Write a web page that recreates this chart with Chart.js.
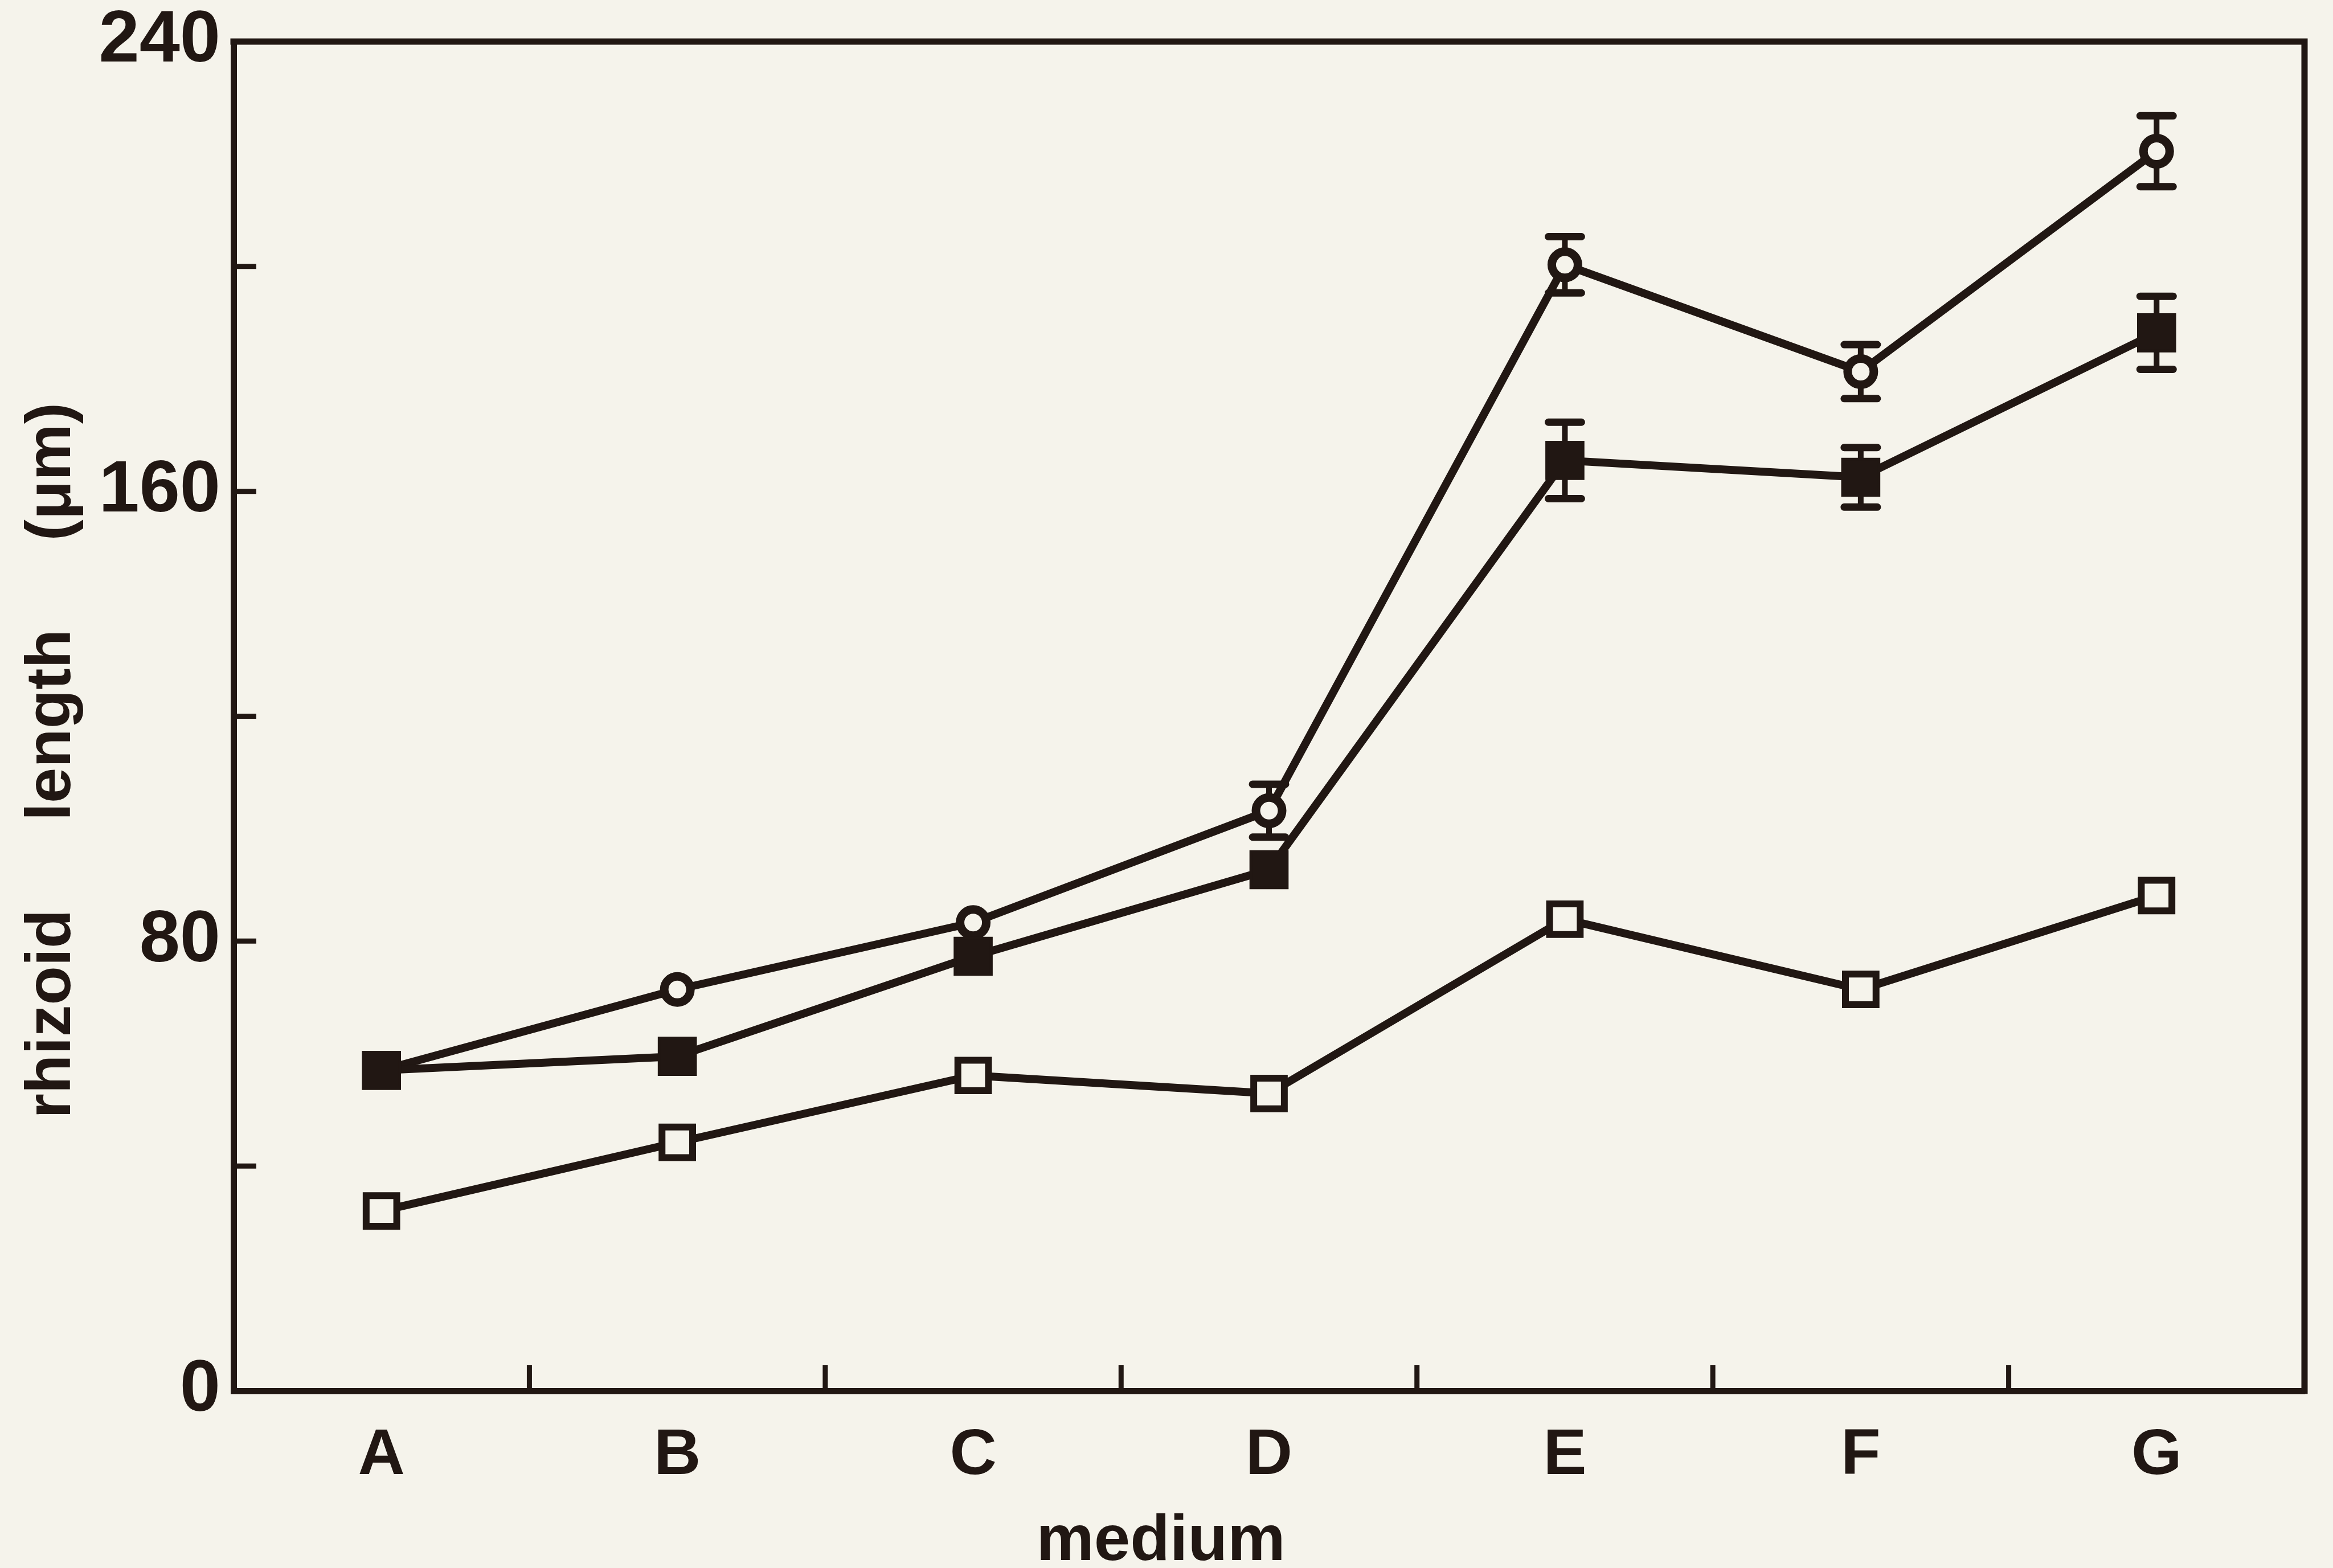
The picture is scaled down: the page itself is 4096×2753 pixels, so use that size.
<!DOCTYPE html>
<html><head><meta charset="utf-8">
<script src="https://cdn.jsdelivr.net/npm/chart.js@4.4.1/dist/chart.umd.min.js"></script>
<style>html,body{margin:0;padding:0;background:#f5f3eb;overflow:hidden}#wrap{width:4096px;height:2753px}</style>
</head><body><div id="wrap"><canvas id="c" width="4096" height="2753"></canvas></div>
<script>
const categories = ['A', 'B', 'C', 'D', 'E', 'F', 'G'];
const openCircle = [57, 71.4, 83.3, 103.2, 200.3, 181.3, 220.5];
const openCircleErr = [0, 0, 0, 4.7, 5, 4.8, 6.3];
const filledSquare = [57, 59.5, 77.3, 92.7, 165.5, 162.5, 188.2];
const filledSquareErr = [0, 0, 0, 0, 6.8, 5.3, 6.5];
const openSquare = [32, 44.2, 56.1, 52.9, 83.9, 71.4, 88.1];
const yTickValues = [0, 40, 80, 120, 160, 200, 240];
const yTickLabels = ['0', '', '80', '', '160', '', '240'];
const xTitle = 'medium            ';
const yTitle = 'rhizoid     length     (\u03bcm)     ';

const INK = '#211713';
const BG = '#f5f3eb';
const FONT = 'Liberation Sans, Arial, Helvetica, sans-serif';

const bgPlugin = {
  id: 'bg',
  beforeDraw(chart) {
    const ctx = chart.ctx;
    ctx.save();
    ctx.fillStyle = BG;
    ctx.fillRect(0, 0, chart.width, chart.height);
    ctx.restore();
  }
};

const framePlugin = {
  id: 'frame',
  afterDraw(chart) {
    const {ctx, chartArea: a, scales} = chart;
    ctx.save();
    ctx.strokeStyle = INK;
    ctx.lineCap = 'square';
    ctx.lineWidth = 11;
    ctx.beginPath();
    ctx.moveTo(a.left, a.top);
    ctx.lineTo(a.right, a.top);
    ctx.lineTo(a.right, a.bottom);
    ctx.stroke();
    // inward ticks on y axis
    ctx.lineWidth = 9;
    ctx.lineCap = 'butt';
    scales.y.ticks.forEach(t => {
      if (t.value <= 0 || t.value >= 240) return;
      const y = scales.y.getPixelForValue(t.value);
      ctx.beginPath();
      ctx.moveTo(a.left, y);
      ctx.lineTo(a.left + 40, y);
      ctx.stroke();
    });
    // inward ticks on x axis between categories
    for (let i = 0; i < categories.length - 1; i++) {
      const x = (scales.x.getPixelForValue(i) + scales.x.getPixelForValue(i + 1)) / 2;
      ctx.beginPath();
      ctx.moveTo(x, a.bottom);
      ctx.lineTo(x, a.bottom - 45);
      ctx.stroke();
    }
    ctx.restore();
  }
};

const errPlugin = {
  id: 'errbars',
  beforeDatasetsDraw(chart) {
    const {ctx, scales} = chart;
    ctx.save();
    ctx.strokeStyle = INK;
    chart.data.datasets.forEach((ds) => {
      if (!ds.err) return;
      ds.data.forEach((v, i) => {
        const e = ds.err[i];
        if (!e) return;
        const x = scales.x.getPixelForValue(i);
        const yt = scales.y.getPixelForValue(v + e);
        const yb = scales.y.getPixelForValue(v - e);
        ctx.lineWidth = 10;
        ctx.lineCap = 'butt';
        ctx.beginPath();
        ctx.moveTo(x, yt); ctx.lineTo(x, yb); ctx.stroke();
        ctx.lineWidth = 13;
        ctx.lineCap = 'round';
        ctx.beginPath();
        ctx.moveTo(x - 29, yt); ctx.lineTo(x + 29, yt);
        ctx.moveTo(x - 29, yb); ctx.lineTo(x + 29, yb);
        ctx.stroke();
      });
    });
    ctx.restore();
  }
};

new Chart(document.getElementById('c'), {
  type: 'line',
  data: {
    labels: categories,
    datasets: [
      {
        label: 'filled square', data: filledSquare, err: filledSquareErr,
        borderColor: INK, borderWidth: 14, pointStyle: 'rect', pointRadius: 45,
        pointBackgroundColor: INK, pointBorderColor: INK, pointBorderWidth: 5, tension: 0
      },
      {
        label: 'open circle', data: openCircle, err: openCircleErr,
        borderColor: INK, borderWidth: 14, pointStyle: 'circle', pointRadius: 23,
        pointBackgroundColor: BG, pointBorderColor: INK, pointBorderWidth: 15, tension: 0
      },
      {
        label: 'open square', data: openSquare,
        borderColor: INK, borderWidth: 14, pointStyle: 'rect', pointRadius: 38,
        pointBackgroundColor: BG, pointBorderColor: INK, pointBorderWidth: 12, tension: 0
      }
    ]
  },
  options: {
    responsive: false,
    animation: false,
    devicePixelRatio: 1,
    layout: {padding: {left: 0, right: 21, top: 73, bottom: 0}},
    plugins: {legend: {display: false}, tooltip: {enabled: false}},
    elements: {line: {borderCapStyle: 'round', borderJoinStyle: 'round'}},
    scales: {
      x: {
        type: 'category',
        offset: true,
        grid: {display: false, drawTicks: false},
        border: {display: true, color: INK, width: 11},
        ticks: {color: INK, padding: 46, font: {family: FONT, size: 114, weight: 'bold'}},
        title: {display: true, text: xTitle, color: INK, padding: {top: 0, bottom: 0},
                font: {family: FONT, size: 114, weight: 'bold', lineHeight: 0.8}},
        afterFit(scale) { scale.height = 311; }
      },
      y: {
        min: 0, max: 240,
        grid: {display: false, drawTicks: false},
        border: {display: true, color: INK, width: 11},
        afterBuildTicks(scale) { scale.ticks = yTickValues.map(v => ({value: v})); },
        ticks: {
          color: INK, padding: 23, autoSkip: false,
          font: {family: FONT, size: 128, weight: 'bold', lineHeight: 0.75},
          callback(value) { return yTickLabels[yTickValues.indexOf(value)]; }
        },
        title: {display: true, text: yTitle, color: INK, padding: {top: 36, bottom: 0},
                font: {family: FONT, size: 112, weight: 'bold', lineHeight: 1}},
        afterFit(scale) { scale.width = 410; }
      }
    }
  },
  plugins: [bgPlugin, errPlugin, framePlugin]
});
</script></body></html>
